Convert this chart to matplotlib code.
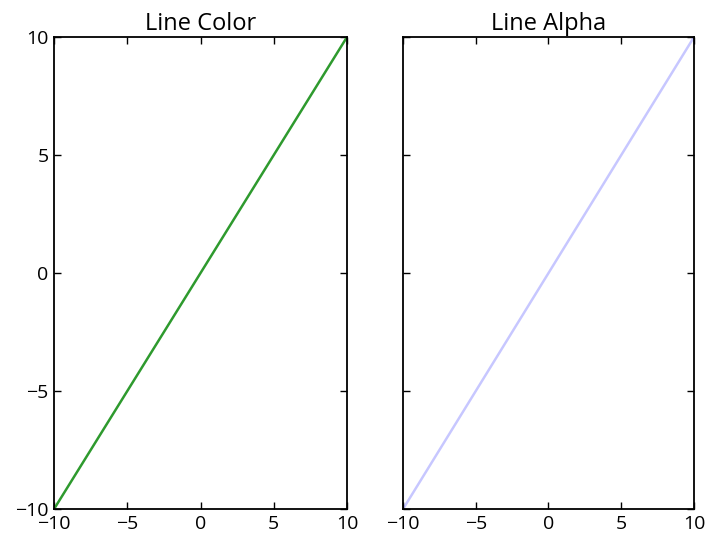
import numpy as np
import matplotlib
matplotlib.use("Agg")
import matplotlib.pyplot as plt

x = np.array([-10, 10])
y = np.array([-10, 10])
ticks = [-10, -5, 0, 5, 10]
titles = ["Line Color", "Line Alpha"]

plt.rcParams["font.family"] = ["Open Sans", "DejaVu Sans"]

fig = plt.figure(figsize=(7.07, 5.37), dpi=100)
ax1 = fig.add_axes([0.0764, 0.052, 0.4144, 0.879])
ax2 = fig.add_axes([0.570, 0.052, 0.4116, 0.879], sharey=ax1)

ax1.plot(x, y, color="#2e9a2e", lw=1.8)
ax2.plot(x, y, color="b", alpha=0.22, lw=1.8)

for ax, title in zip([ax1, ax2], titles):
    ax.set_xlim(-10, 10)
    ax.set_ylim(-10, 10)
    ax.set_xticks(ticks)
    ax.set_yticks(ticks)
    ax.tick_params(direction="in", top=True, right=True, length=5, width=1,
                   pad=4, labelsize=14)
    for s in ax.spines.values():
        s.set_linewidth(1.3)
    ax.set_title(title, fontsize=17, pad=5)
ax2.tick_params(labelleft=False)

fig.savefig("out.png", dpi=100)
